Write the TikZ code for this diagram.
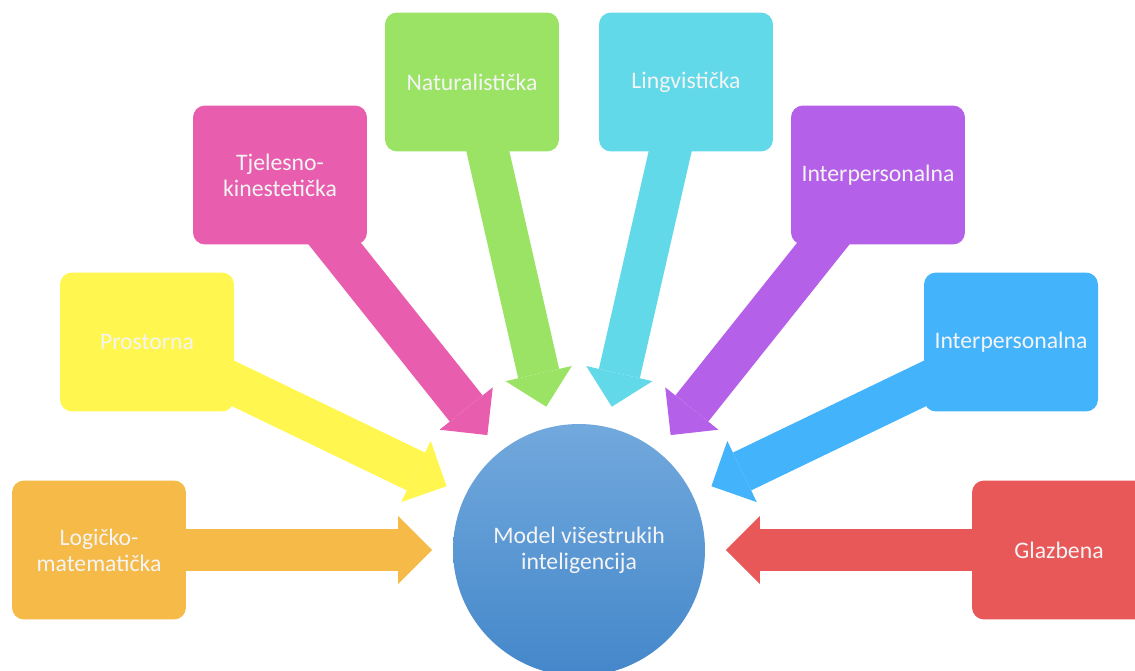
\documentclass[tikz,border=0pt]{standalone}
\usepackage{fontspec}
\setmainfont{Carlito}
\usetikzlibrary{arrows.meta,backgrounds}

\definecolor{logicorange}{HTML}{F5BA47}
\definecolor{spaceyellow}{HTML}{FFF74F}
\definecolor{bodypink}{HTML}{E85DAD}
\definecolor{naturegreen}{HTML}{9BE365}
\definecolor{langcyan}{HTML}{62D9E8}
\definecolor{interpurple}{HTML}{B560E8}
\definecolor{intrablue}{HTML}{43B3FC}
\definecolor{musicred}{HTML}{E85858}
\definecolor{hubtop}{HTML}{72A9DD}
\definecolor{hubbottom}{HTML}{4487CA}
\definecolor{labelwhite}{HTML}{F4F4F4}

\begin{document}
\begin{tikzpicture}[x=0.02cm, y=-0.02cm,
    box/.style={rectangle, rounded corners=0.24cm, fill=#1,
        minimum width=3.48cm, minimum height=2.78cm, inner sep=2pt,
        align=center, text=labelwhite, font=\fontsize{13.5}{14.8}\selectfont},
    hub/.style={circle, minimum size=5.04cm, inner sep=0pt,
        top color=hubtop, bottom color=hubbottom, draw=none,
        align=center, text=labelwhite, font=\fontsize{13.5}{14.8}\selectfont},
    link/.style={draw=#1, line width=0.84cm, shorten >=2.94cm,
        -{Triangle[width=1.36cm, length=0.68cm, line width=0pt]}}
]
    \useasboundingbox (0,0) rectangle (1135,671);
    \node[hub] (model) at (579,550) {Model višestrukih\\inteligencija};
    \node[box=logicorange] (logic) at (99,550) {Logičko-\\matematička};
    \node[box=spaceyellow] (space) at (147,342) {Prostorna};
    \node[box=bodypink] (body) at (280,175) {Tjelesno-\\kinestetička};
    \node[box=naturegreen] (nature) at (472,82) {Naturalistička};
    \node[box=langcyan] (lang) at (686,82) {Lingvistička};
    \node[box=interpurple] (inter) at (878,175) {Interpersonalna};
    \node[box=intrablue] (intra) at (1011,342) {Interpersonalna};
    \node[box=musicred] (music) at (1059,550) {Glazbena};
    \begin{scope}[on background layer]
        \draw[link=logicorange] (logic.center) -- (model.center);
        \draw[link=spaceyellow] (space.center) -- (model.center);
        \draw[link=bodypink] (body.center) -- (model.center);
        \draw[link=naturegreen] (nature.center) -- (model.center);
        \draw[link=langcyan] (lang.center) -- (model.center);
        \draw[link=interpurple] (inter.center) -- (model.center);
        \draw[link=intrablue] (intra.center) -- (model.center);
        \draw[link=musicred] (music.center) -- (model.center);
    \end{scope}
\end{tikzpicture}
\end{document}
